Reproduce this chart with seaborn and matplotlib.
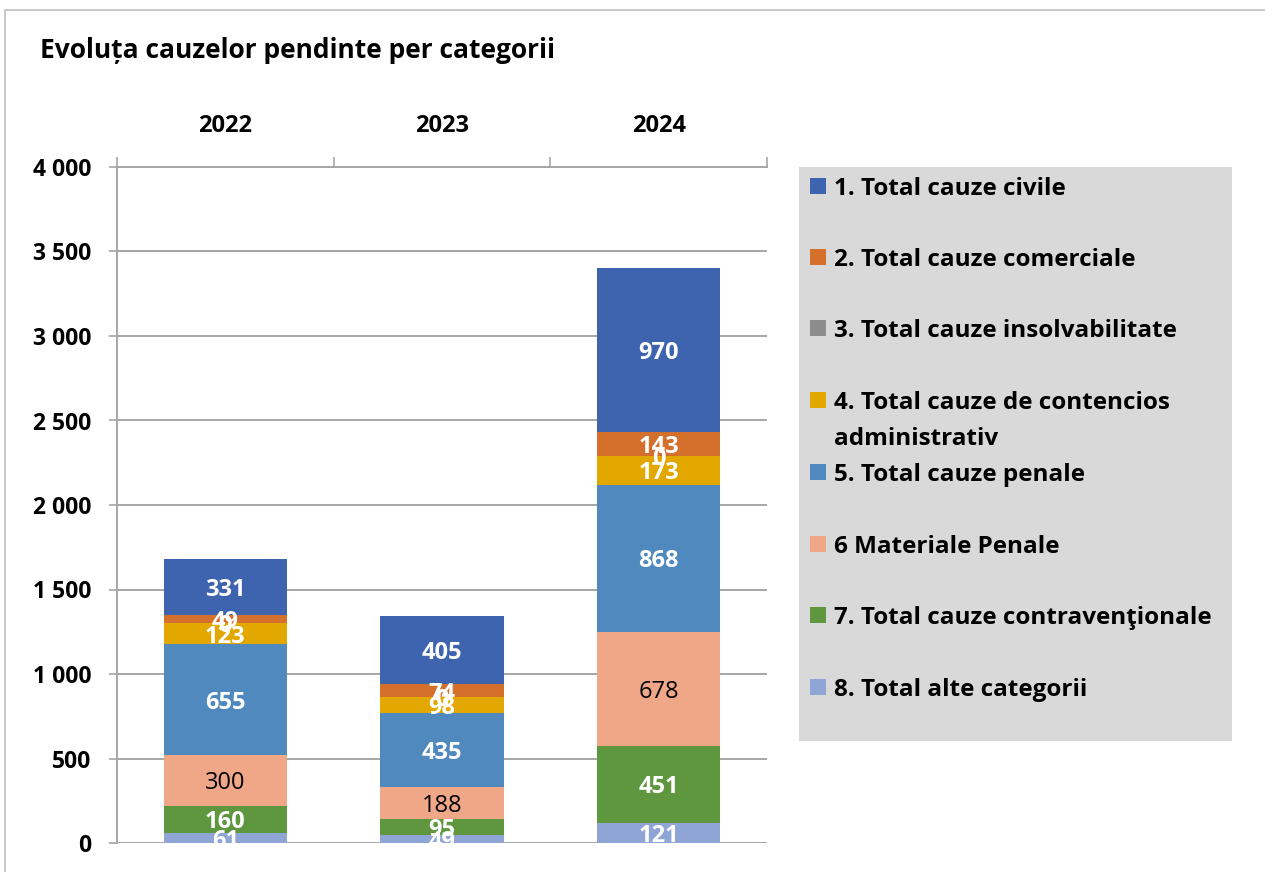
import numpy as np
import pandas as pd
import matplotlib
matplotlib.use("Agg")
import matplotlib.pyplot as plt
from matplotlib.patches import Rectangle
import seaborn as sns

years = ["2022", "2023", "2024"]
categories = [
    "1. Total cauze civile",
    "2. Total cauze comerciale",
    "3. Total cauze insolvabilitate",
    "4. Total cauze de contencios\nadministrativ",
    "5. Total cauze penale",
    "6 Materiale Penale",
    "7. Total cauze contravenţionale",
    "8. Total alte categorii",
]
civile = [331, 405, 970]
comerciale = [49, 74, 143]
insolv = [0, 0, 0]
contencios = [123, 98, 173]
penale = [655, 435, 868]
materiale = [300, 188, 678]
contrav = [160, 95, 451]
alte = [61, 49, 121]
series = [civile, comerciale, insolv, contencios, penale, materiale, contrav, alte]
colors = ["#3E64AF", "#D4702B", "#8C8C8C", "#E3A800", "#4F89BD", "#F0A788", "#5E973D", "#8FA5D6"]
label_colors = ["white", "white", "white", "white", "white", "black", "white", "white"]
label_weights = ["bold"] * 5 + ["normal"] + ["bold"] * 2
title = "Evoluța cauzelor pendinte per categorii"
yticks = [0, 500, 1000, 1500, 2000, 2500, 3000, 3500, 4000]
ytick_labels = ["0", "500", "1 000", "1 500", "2 000", "2 500", "3 000", "3 500", "4 000"]

sns.set_theme(style="white")
plt.rcParams["font.family"] = ["Open Sans", "DejaVu Sans"]
plt.rcParams["text.color"] = "black"
plt.rcParams["xtick.color"] = "black"
plt.rcParams["ytick.color"] = "black"

fig = plt.figure(figsize=(12.65, 8.72), dpi=100)
ax = fig.add_axes([117 / 1265, 1 - 843 / 872, (767 - 117) / 1265, (843 - 167) / 872])

stack_order = list(range(len(series)))[::-1]
arr = np.array(series, dtype=float)
cum = {}
running = np.zeros(len(years))
for i in stack_order:
    running = running + arr[i]
    cum[i] = running.copy()

for i in stack_order[::-1]:
    df = pd.DataFrame({"year": years, "value": cum[i]})
    sns.barplot(data=df, x="year", y="value", color=colors[i], saturation=1,
                width=0.57, ax=ax, linewidth=0, order=years)

for i in stack_order:
    for j in range(len(years)):
        mid = cum[i][j] - arr[i][j] / 2
        ax.text(j, mid, f"{int(arr[i][j])}", ha="center", va="center_baseline",
                color=label_colors[i], fontsize=17, fontweight=label_weights[i])

ax.set_ylim(0, 4000)
ax.set_xlim(-0.5, 2.5)
ax.set_yticks(yticks)
ax.set_yticklabels(ytick_labels, fontsize=16.5, fontweight="bold")
ax.yaxis.grid(True, color="#A6A6A6", linewidth=1.4)
ax.set_axisbelow(True)
ax.set_xlabel("")
ax.set_ylabel("")
ax.xaxis.tick_top()
ax.set_xticks(range(len(years)))
ax.set_xticklabels(years, fontsize=17, fontweight="bold")
ax.set_xticks([-0.5, 0.5, 1.5, 2.5], minor=True)
ax.tick_params(axis="x", which="major", length=0, pad=21)
ax.tick_params(axis="x", which="minor", length=7, width=1.2, color="#A6A6A6", direction="out", top=True, bottom=False)
ax.tick_params(axis="y", length=6, width=1.2, color="#A6A6A6", labelcolor="black", direction="out", left=True, pad=12.5)
for s in ["right", "bottom"]:
    ax.spines[s].set_visible(False)
for s in ["left", "top"]:
    ax.spines[s].set_color("#A6A6A6")
    ax.spines[s].set_linewidth(1.4)

fig.text(40 / 1265, 1 - 48 / 872, title, fontsize=19, fontweight="bold", ha="left", va="center_baseline")

fig.patches.append(Rectangle((5 / 1265, -0.1), 1.2, 1 - 10 / 872 + 0.1, transform=fig.transFigure,
                             fill=False, edgecolor="#BFBFBF", linewidth=1.2))

W, H = 1265, 872
fig.patches.append(Rectangle((799 / W, 1 - 741 / H), (1232 - 799) / W, (741 - 167) / H,
                             transform=fig.transFigure, facecolor="#D9D9D9", edgecolor="none"))
ys = [186, 257, 328, 400, 472, 544, 615, 687]
for k, lab in enumerate(categories):
    y = ys[k]
    fig.patches.append(Rectangle((810 / W, 1 - (y + 8) / H), 16 / W, 16 / H,
                                 transform=fig.transFigure, facecolor=colors[k], edgecolor="none"))
    for n, line in enumerate(lab.split("\n")):
        fig.text(834 / W, 1 - (y + 36 * n) / H, line, fontsize=17.5, fontweight="bold",
                 ha="left", va="center_baseline")

fig.savefig("out.png", dpi=100)
